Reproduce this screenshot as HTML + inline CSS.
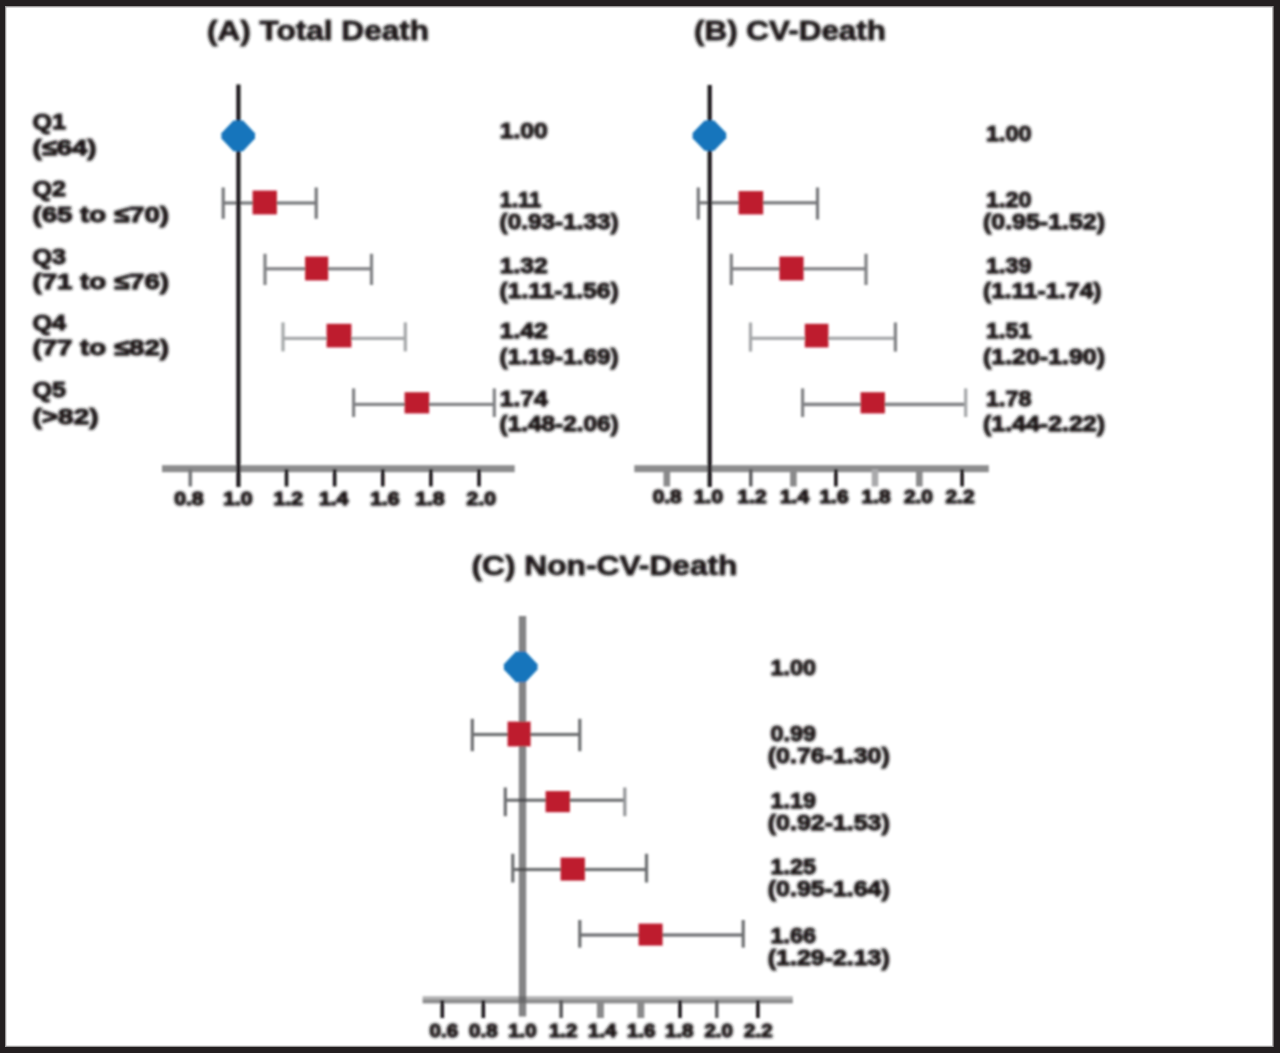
<!DOCTYPE html>
<html lang="en">
<head>
<meta charset="utf-8">
<title>Forest plot: Total Death, CV-Death, Non-CV-Death by quintile</title>
<style>
html,body{margin:0;padding:0;background:#fff;}
body{width:1280px;height:1053px;overflow:hidden;}
svg{display:block;}
.t{font-family:"Liberation Sans",Arial,Helvetica,sans-serif;font-weight:bold;fill:#1c191a;stroke:#1c191a;stroke-width:1.25px;stroke-linejoin:round;}
.k{stroke-width:1.5px;}
.h{stroke-width:0.9px;}
</style>
</head>
<body>
<svg width="1280" height="1053" viewBox="0 0 1280 1053">
<defs>
<filter id="bs" x="-5%" y="-5%" width="110%" height="110%"><feGaussianBlur stdDeviation="0.9"/></filter>
<filter id="bb" x="-5%" y="-5%" width="110%" height="110%"><feGaussianBlur stdDeviation="0.7"/></filter>
<filter id="bt" x="-5%" y="-5%" width="110%" height="110%"><feGaussianBlur stdDeviation="1.45"/></filter>
</defs>
<rect x="0" y="0" width="1280" height="1053" fill="#fff"/>
<g filter="url(#bs)">
<rect x="162.00" y="465.20" width="352.70" height="7.00" fill="#8c8c8d"/>
<rect x="188.48" y="469.00" width="3.60" height="17.50" fill="#77787a"/>
<rect x="284.72" y="469.00" width="3.60" height="17.50" fill="#1c191a"/>
<rect x="332.84" y="469.00" width="3.60" height="17.50" fill="#1c191a"/>
<rect x="380.96" y="469.00" width="3.60" height="17.50" fill="#1c191a"/>
<rect x="429.08" y="469.00" width="3.60" height="17.50" fill="#1c191a"/>
<rect x="477.20" y="469.00" width="3.60" height="17.50" fill="#1c191a"/>
<rect x="223.20" y="201.40" width="93.00" height="3.20" fill="#77787b"/>
<rect x="221.60" y="187.50" width="3.20" height="31.30" fill="#77787b"/>
<rect x="314.60" y="187.50" width="3.20" height="31.30" fill="#77787b"/>
<rect x="265.00" y="267.20" width="106.50" height="3.20" fill="#808184"/>
<rect x="263.40" y="253.80" width="3.20" height="31.20" fill="#808184"/>
<rect x="369.90" y="253.80" width="3.20" height="31.20" fill="#808184"/>
<rect x="283.00" y="336.80" width="122.30" height="3.20" fill="#a5a7a9"/>
<rect x="281.40" y="322.40" width="3.20" height="29.00" fill="#a5a7a9"/>
<rect x="403.70" y="322.40" width="3.20" height="29.00" fill="#a5a7a9"/>
<rect x="353.60" y="402.80" width="140.70" height="3.20" fill="#808184"/>
<rect x="352.00" y="388.40" width="3.20" height="28.60" fill="#808184"/>
<rect x="492.70" y="388.40" width="3.20" height="28.60" fill="#808184"/>
<rect x="236.30" y="84.50" width="4.20" height="402.50" fill="#1c191a"/>
<polygon points="221.4,133.3 233.4,120.5 243.0,120.5 255.0,133.3 255.0,138.5 243.0,151.3 233.4,151.3 221.4,138.5" fill="#1475bc"/>
<rect x="634.30" y="465.20" width="354.50" height="7.00" fill="#8c8c8d"/>
<rect x="663.50" y="469.00" width="6.60" height="17.50" fill="#8a8a8b"/>
<rect x="749.10" y="469.00" width="3.40" height="17.50" fill="#5a5a5c"/>
<rect x="790.10" y="469.00" width="6.60" height="17.50" fill="#8a8a8b"/>
<rect x="834.10" y="469.00" width="3.60" height="17.50" fill="#1c191a"/>
<rect x="871.70" y="469.00" width="6.60" height="17.50" fill="#a9a9ab"/>
<rect x="916.00" y="469.00" width="6.60" height="17.50" fill="#8a8a8b"/>
<rect x="960.30" y="469.00" width="3.60" height="17.50" fill="#1c191a"/>
<rect x="698.30" y="201.20" width="119.20" height="3.20" fill="#77787b"/>
<rect x="696.70" y="187.50" width="3.20" height="32.00" fill="#77787b"/>
<rect x="815.90" y="187.50" width="3.20" height="32.00" fill="#77787b"/>
<rect x="731.30" y="267.20" width="134.70" height="3.20" fill="#808184"/>
<rect x="729.70" y="253.80" width="3.20" height="31.20" fill="#808184"/>
<rect x="864.40" y="253.80" width="3.20" height="31.20" fill="#808184"/>
<rect x="750.50" y="336.70" width="144.90" height="3.20" fill="#a5a7a9"/>
<rect x="748.90" y="322.50" width="3.20" height="29.10" fill="#a5a7a9"/>
<rect x="893.80" y="322.50" width="3.20" height="29.10" fill="#808184"/>
<rect x="802.60" y="402.65" width="163.10" height="3.50" fill="#808184"/>
<rect x="801.00" y="388.40" width="3.20" height="28.60" fill="#808184"/>
<rect x="964.10" y="388.40" width="3.20" height="28.60" fill="#a5a7a9"/>
<rect x="707.60" y="85.00" width="4.20" height="402.00" fill="#1c191a"/>
<polygon points="692.6,133.0 704.6,120.4 714.2,120.4 726.2,133.0 726.2,138.2 714.2,150.8 704.6,150.8 692.6,138.2" fill="#1475bc"/>
<rect x="422.60" y="996.20" width="370.20" height="3.20" fill="#b3b3b4"/>
<rect x="422.60" y="999.20" width="370.20" height="4.20" fill="#8c8c8d"/>
<rect x="440.50" y="1000.00" width="3.60" height="18.00" fill="#1c191a"/>
<rect x="481.50" y="1000.00" width="3.60" height="18.00" fill="#1c191a"/>
<rect x="559.30" y="1000.00" width="3.60" height="18.00" fill="#5a5a5c"/>
<rect x="596.90" y="1000.00" width="7.00" height="18.00" fill="#8a8a8b"/>
<rect x="637.30" y="1000.00" width="7.00" height="18.00" fill="#8a8a8b"/>
<rect x="678.20" y="1000.00" width="3.60" height="18.00" fill="#1c191a"/>
<rect x="715.10" y="1000.00" width="3.40" height="18.00" fill="#5a5a5c"/>
<rect x="756.10" y="1000.00" width="3.60" height="18.00" fill="#1c191a"/>
<rect x="518.80" y="616.00" width="7.40" height="400.50" fill="#848485"/>
<rect x="472.30" y="732.90" width="107.50" height="3.20" fill="#6d6e71"/>
<rect x="470.70" y="718.80" width="3.20" height="32.40" fill="#6d6e71"/>
<rect x="578.20" y="718.80" width="3.20" height="32.40" fill="#6d6e71"/>
<rect x="505.30" y="798.60" width="119.50" height="3.20" fill="#6d6e71"/>
<rect x="503.70" y="787.50" width="3.20" height="28.70" fill="#6d6e71"/>
<rect x="623.20" y="787.50" width="3.20" height="28.70" fill="#939598"/>
<rect x="512.80" y="867.90" width="133.70" height="3.20" fill="#6d6e71"/>
<rect x="511.20" y="853.80" width="3.20" height="28.70" fill="#6d6e71"/>
<rect x="644.90" y="853.80" width="3.20" height="28.70" fill="#6d6e71"/>
<rect x="579.80" y="933.40" width="163.40" height="3.20" fill="#6d6e71"/>
<rect x="578.20" y="920.00" width="3.20" height="27.60" fill="#6d6e71"/>
<rect x="741.60" y="920.00" width="3.20" height="27.60" fill="#6d6e71"/>
<rect x="518.80" y="732.90" width="7.40" height="3.20" fill="#4f4f51"/>
<rect x="518.80" y="798.60" width="7.40" height="3.20" fill="#4f4f51"/>
<rect x="518.80" y="867.90" width="7.40" height="3.20" fill="#4f4f51"/>
<rect x="518.80" y="996.40" width="7.40" height="7.00" fill="#6b6b6c"/>
<polygon points="503.9,664.2 515.9,651.4 525.5,651.4 537.5,664.2 537.5,669.4 525.5,682.2 515.9,682.2 503.9,669.4" fill="#1475bc"/>
<rect x="252.60" y="190.60" width="24.30" height="23.80" fill="#be1e2d"/>
<rect x="305.10" y="256.60" width="23.10" height="23.80" fill="#be1e2d"/>
<rect x="326.60" y="323.80" width="24.80" height="23.60" fill="#be1e2d"/>
<rect x="404.60" y="392.20" width="24.60" height="21.20" fill="#be1e2d"/>
<rect x="738.60" y="191.10" width="24.60" height="23.30" fill="#be1e2d"/>
<rect x="779.40" y="256.60" width="24.20" height="23.80" fill="#be1e2d"/>
<rect x="804.80" y="323.80" width="23.60" height="23.60" fill="#be1e2d"/>
<rect x="860.60" y="392.20" width="24.30" height="21.20" fill="#be1e2d"/>
<rect x="507.60" y="721.60" width="23.00" height="24.80" fill="#be1e2d"/>
<rect x="545.60" y="791.10" width="24.30" height="21.10" fill="#be1e2d"/>
<rect x="560.60" y="857.60" width="24.30" height="23.00" fill="#be1e2d"/>
<rect x="638.60" y="923.60" width="24.00" height="22.00" fill="#be1e2d"/>
</g>
<g filter="url(#bt)">
<text class="t h" x="207.0" y="39.5" font-size="28" textLength="222.0" lengthAdjust="spacingAndGlyphs">(A) Total Death</text>
<text class="t h" x="694.0" y="39.5" font-size="28" textLength="192.0" lengthAdjust="spacingAndGlyphs">(B) CV-Death</text>
<text class="t h" x="471.5" y="574.5" font-size="28" textLength="266.0" lengthAdjust="spacingAndGlyphs">(C) Non-CV-Death</text>
<text class="t" x="32.5" y="129.0" font-size="22.2" textLength="33.5" lengthAdjust="spacingAndGlyphs">Q1</text>
<text class="t" x="32.5" y="155.0" font-size="22.2" textLength="64.0" lengthAdjust="spacingAndGlyphs">(≤64)</text>
<text class="t" x="32.5" y="195.5" font-size="22.2" textLength="33.5" lengthAdjust="spacingAndGlyphs">Q2</text>
<text class="t" x="32.5" y="222.0" font-size="22.2" textLength="136.5" lengthAdjust="spacingAndGlyphs">(65 to ≤70)</text>
<text class="t" x="32.5" y="264.2" font-size="22.2" textLength="33.5" lengthAdjust="spacingAndGlyphs">Q3</text>
<text class="t" x="32.5" y="289.0" font-size="22.2" textLength="136.5" lengthAdjust="spacingAndGlyphs">(71 to ≤76)</text>
<text class="t" x="32.5" y="330.0" font-size="22.2" textLength="33.5" lengthAdjust="spacingAndGlyphs">Q4</text>
<text class="t" x="32.5" y="354.5" font-size="22.2" textLength="136.5" lengthAdjust="spacingAndGlyphs">(77 to ≤82)</text>
<text class="t" x="32.5" y="396.5" font-size="22.2" textLength="33.5" lengthAdjust="spacingAndGlyphs">Q5</text>
<text class="t" x="32.5" y="423.5" font-size="22.2" textLength="66.0" lengthAdjust="spacingAndGlyphs">(&gt;82)</text>
<text class="t" x="499.8" y="138.0" font-size="22.2" textLength="48.0" lengthAdjust="spacingAndGlyphs">1.00</text>
<text class="t" x="499.8" y="206.9" font-size="22.2" textLength="41.5" lengthAdjust="spacingAndGlyphs">1.11</text>
<text class="t" x="499.6" y="228.9" font-size="22.2" textLength="119.0" lengthAdjust="spacingAndGlyphs">(0.93-1.33)</text>
<text class="t" x="499.8" y="273.0" font-size="22.2" textLength="48.0" lengthAdjust="spacingAndGlyphs">1.32</text>
<text class="t" x="499.6" y="298.0" font-size="22.2" textLength="119.0" lengthAdjust="spacingAndGlyphs">(1.11-1.56)</text>
<text class="t" x="499.8" y="338.2" font-size="22.2" textLength="48.0" lengthAdjust="spacingAndGlyphs">1.42</text>
<text class="t" x="499.6" y="363.9" font-size="22.2" textLength="119.0" lengthAdjust="spacingAndGlyphs">(1.19-1.69)</text>
<text class="t" x="499.8" y="405.5" font-size="22.2" textLength="48.0" lengthAdjust="spacingAndGlyphs">1.74</text>
<text class="t" x="499.6" y="430.5" font-size="22.2" textLength="119.0" lengthAdjust="spacingAndGlyphs">(1.48-2.06)</text>
<text class="t" x="986.0" y="141.4" font-size="22.2" textLength="45.5" lengthAdjust="spacingAndGlyphs">1.00</text>
<text class="t" x="986.0" y="206.9" font-size="22.2" textLength="45.5" lengthAdjust="spacingAndGlyphs">1.20</text>
<text class="t" x="983.0" y="228.9" font-size="22.2" textLength="122.0" lengthAdjust="spacingAndGlyphs">(0.95-1.52)</text>
<text class="t" x="986.0" y="273.0" font-size="22.2" textLength="45.5" lengthAdjust="spacingAndGlyphs">1.39</text>
<text class="t" x="983.0" y="298.0" font-size="22.2" textLength="118.5" lengthAdjust="spacingAndGlyphs">(1.11-1.74)</text>
<text class="t" x="986.0" y="338.2" font-size="22.2" textLength="45.5" lengthAdjust="spacingAndGlyphs">1.51</text>
<text class="t" x="983.0" y="363.9" font-size="22.2" textLength="122.0" lengthAdjust="spacingAndGlyphs">(1.20-1.90)</text>
<text class="t" x="986.0" y="405.5" font-size="22.2" textLength="45.5" lengthAdjust="spacingAndGlyphs">1.78</text>
<text class="t" x="983.0" y="430.5" font-size="22.2" textLength="122.0" lengthAdjust="spacingAndGlyphs">(1.44-2.22)</text>
<text class="t" x="770.6" y="674.8" font-size="22.2" textLength="45.5" lengthAdjust="spacingAndGlyphs">1.00</text>
<text class="t" x="770.6" y="741.0" font-size="22.2" textLength="45.5" lengthAdjust="spacingAndGlyphs">0.99</text>
<text class="t" x="767.8" y="763.3" font-size="22.2" textLength="122.0" lengthAdjust="spacingAndGlyphs">(0.76-1.30)</text>
<text class="t" x="770.6" y="807.5" font-size="22.2" textLength="45.5" lengthAdjust="spacingAndGlyphs">1.19</text>
<text class="t" x="767.8" y="829.8" font-size="22.2" textLength="122.0" lengthAdjust="spacingAndGlyphs">(0.92-1.53)</text>
<text class="t" x="770.6" y="873.6" font-size="22.2" textLength="45.5" lengthAdjust="spacingAndGlyphs">1.25</text>
<text class="t" x="767.8" y="895.5" font-size="22.2" textLength="122.0" lengthAdjust="spacingAndGlyphs">(0.95-1.64)</text>
<text class="t" x="770.6" y="942.5" font-size="22.2" textLength="45.5" lengthAdjust="spacingAndGlyphs">1.66</text>
<text class="t" x="767.8" y="964.5" font-size="22.2" textLength="122.0" lengthAdjust="spacingAndGlyphs">(1.29-2.13)</text>
<text class="t k" x="174.2" y="504.5" font-size="19.2" textLength="29.5" lengthAdjust="spacingAndGlyphs">0.8</text>
<text class="t k" x="223.2" y="504.5" font-size="19.2" textLength="29.5" lengthAdjust="spacingAndGlyphs">1.0</text>
<text class="t k" x="273.6" y="504.5" font-size="19.2" textLength="29.5" lengthAdjust="spacingAndGlyphs">1.2</text>
<text class="t k" x="318.9" y="504.5" font-size="19.2" textLength="29.5" lengthAdjust="spacingAndGlyphs">1.4</text>
<text class="t k" x="370.2" y="504.5" font-size="19.2" textLength="29.5" lengthAdjust="spacingAndGlyphs">1.6</text>
<text class="t k" x="415.2" y="504.5" font-size="19.2" textLength="29.5" lengthAdjust="spacingAndGlyphs">1.8</text>
<text class="t k" x="466.6" y="504.5" font-size="19.2" textLength="29.5" lengthAdjust="spacingAndGlyphs">2.0</text>
<text class="t k" x="652.7" y="503.3" font-size="19.2" textLength="29.0" lengthAdjust="spacingAndGlyphs">0.8</text>
<text class="t k" x="694.0" y="503.3" font-size="19.2" textLength="29.0" lengthAdjust="spacingAndGlyphs">1.0</text>
<text class="t k" x="737.6" y="503.3" font-size="19.2" textLength="29.0" lengthAdjust="spacingAndGlyphs">1.2</text>
<text class="t k" x="780.0" y="503.3" font-size="19.2" textLength="29.0" lengthAdjust="spacingAndGlyphs">1.4</text>
<text class="t k" x="819.5" y="503.3" font-size="19.2" textLength="29.0" lengthAdjust="spacingAndGlyphs">1.6</text>
<text class="t k" x="861.6" y="503.3" font-size="19.2" textLength="29.0" lengthAdjust="spacingAndGlyphs">1.8</text>
<text class="t k" x="903.9" y="503.3" font-size="19.2" textLength="29.0" lengthAdjust="spacingAndGlyphs">2.0</text>
<text class="t k" x="945.5" y="503.3" font-size="19.2" textLength="29.0" lengthAdjust="spacingAndGlyphs">2.2</text>
<text class="t k" x="429.6" y="1036.9" font-size="19.2" textLength="28.5" lengthAdjust="spacingAndGlyphs">0.6</text>
<text class="t k" x="469.1" y="1036.9" font-size="19.2" textLength="28.5" lengthAdjust="spacingAndGlyphs">0.8</text>
<text class="t k" x="508.2" y="1036.9" font-size="19.2" textLength="28.5" lengthAdjust="spacingAndGlyphs">1.0</text>
<text class="t k" x="548.9" y="1036.9" font-size="19.2" textLength="28.5" lengthAdjust="spacingAndGlyphs">1.2</text>
<text class="t k" x="588.0" y="1036.9" font-size="19.2" textLength="28.5" lengthAdjust="spacingAndGlyphs">1.4</text>
<text class="t k" x="627.0" y="1036.9" font-size="19.2" textLength="28.5" lengthAdjust="spacingAndGlyphs">1.6</text>
<text class="t k" x="665.0" y="1036.9" font-size="19.2" textLength="28.5" lengthAdjust="spacingAndGlyphs">1.8</text>
<text class="t k" x="704.4" y="1036.9" font-size="19.2" textLength="28.5" lengthAdjust="spacingAndGlyphs">2.0</text>
<text class="t k" x="744.1" y="1036.9" font-size="19.2" textLength="28.5" lengthAdjust="spacingAndGlyphs">2.2</text>
</g>
<path fill="#231f20" fill-rule="evenodd" d="M-4 -4H1284V1057H-4Z M5 6.1V1047H1273.6V6.1Z"/>
<rect x="5.5" y="6.6" width="1267.6" height="1039.9" fill="none" stroke="#231f20" stroke-opacity="0.45" stroke-width="1.6"/>
</svg>
</body>
</html>
